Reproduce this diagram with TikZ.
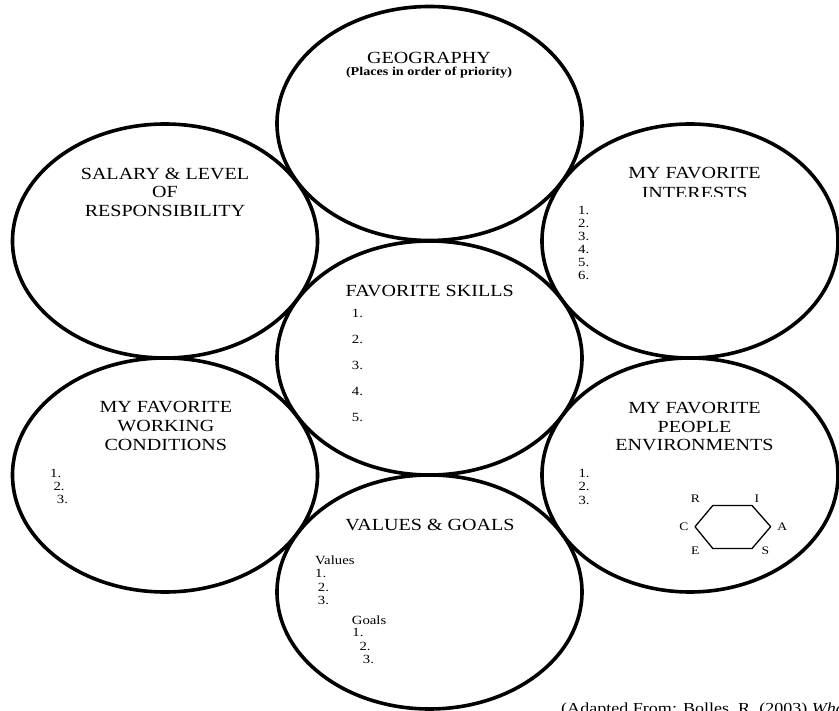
\documentclass[tikz,border=0pt]{standalone}
\usepackage{fontspec}
\setmainfont{Liberation Serif}[FakeStretch=1.18]
\usetikzlibrary{shapes.geometric}
\tikzset{
  ring/.style={ellipse, draw, line width=3.6pt, minimum width=305pt, minimum height=234pt, inner sep=0pt},
  ringR/.style={ring, minimum width=296pt},
  ttl/.style={anchor=base, inner sep=0pt, font=\fontsize{17}{18.7}\selectfont},
  sub/.style={anchor=base, inner sep=0pt, font=\bfseries\fontsize{12}{13}\selectfont},
  lst/.style={anchor=base west, inner sep=0pt, font=\fontsize{12.5}{13}\selectfont},
  hexlbl/.style={inner sep=0pt, font=\fontsize{11.5}{12}\selectfont},
  hexline/.style={line width=1.3pt, line join=round},
}
\begin{document}
\begin{tikzpicture}[x=1pt,y=-1pt]
\useasboundingbox (0,0) rectangle (839,711);
% ellipses
\node[ring]  (geo) at (429.5,123.5) {};
\node[ring]  (sal) at (165,241) {};
\node[ringR] (int) at (690,241) {};
\node[ring]  (skl) at (429.5,358) {};
\node[ring]  (wrk) at (165,475) {};
\node[ringR] (ppl) at (690,475) {};
\node[ring]  (val) at (429.5,592) {};
% geography
\node[ttl] (geoT) at (429,63.3) {GEOGRAPHY};
\node[sub] (geoS) at (429,75.5) {(Places in order of priority)};
% salary
\node[ttl] (sal1) at (165,179.3) {SALARY \& LEVEL};
\node[ttl] (sal2) at (165,198) {OF};
\node[ttl] (sal3) at (165,216.7) {RESPONSIBILITY};
% interests
\node[ttl] (int1) at (694.5,179) {MY FAVORITE};
\begin{scope}
  \clip (600,150) rectangle (800,196.7);
  \node[ttl] (int2) at (694.7,199) {INTERESTS};
\end{scope}
\node[lst] (i1) at (578,214.3) {1.};
\node[lst] (i2) at (578,227.3) {2.};
\node[lst] (i3) at (578,240.3) {3.};
\node[lst] (i4) at (578,253.3) {4.};
\node[lst] (i5) at (578,266.3) {5.};
\node[lst] (i6) at (578,279.3) {6.};
% skills
\node[ttl] (sklT) at (429.7,296.7) {FAVORITE SKILLS};
\node[lst] (s1) at (351.7,317.7) {1.};
\node[lst] (s2) at (351.7,343.7) {2.};
\node[lst] (s3) at (351.7,369.7) {3.};
\node[lst] (s4) at (351.7,395.7) {4.};
\node[lst] (s5) at (351.7,421.7) {5.};
% working conditions
\node[ttl] (wrk1) at (165.8,412.7) {MY FAVORITE};
\node[ttl] (wrk2) at (165.8,431.7) {WORKING};
\node[ttl] (wrk3) at (165.8,451) {CONDITIONS};
\node[lst] (w1) at (50,477.7) {1.};
\node[lst] (w2) at (53.3,491) {2.};
\node[lst] (w3) at (56.7,503.7) {3.};
% people environments
\node[ttl] (ppl1) at (694.5,413.3) {MY FAVORITE};
\node[ttl] (ppl2) at (694.5,432.3) {PEOPLE};
\node[ttl] (ppl3) at (694.5,451) {ENVIRONMENTS};
\node[lst] (p1) at (578.3,477.3) {1.};
\node[lst] (p2) at (578.3,490.7) {2.};
\node[lst] (p3) at (578.3,504) {3.};
% hexagon
\coordinate (hTL) at (712.8,505.5);
\coordinate (hTR) at (752,505.5);
\coordinate (hR)  at (770.7,526.7);
\coordinate (hBR) at (752,548.5);
\coordinate (hBL) at (712.8,548.5);
\coordinate (hL)  at (695,526.7);
\draw[hexline] (hTL) -- (hTR) -- (hR) -- (hBR) -- (hBL) -- (hL) -- cycle;
\node[hexlbl] (lR) at (695.5,498.8) {R};
\node[hexlbl] (lI) at (757,498.8) {I};
\node[hexlbl] (lA) at (782.3,526.3) {A};
\node[hexlbl] (lC) at (683.8,526.3) {C};
\begin{scope}
  \clip (680,540) rectangle (790,553);
  \node[hexlbl] (lE) at (695.2,550.4) {E};
  \node[hexlbl] (lS) at (765.3,550.4) {S};
\end{scope}
% values & goals
\node[ttl] (valT) at (430,530) {VALUES \& GOALS};
\node[lst] (vH) at (315,565) {Values};
\node[lst] (v1) at (315,577.7) {1.};
\node[lst] (v2) at (317.7,591) {2.};
\node[lst] (v3) at (317.7,604.3) {3.};
\node[lst] (gH) at (351.7,624) {Goals};
\node[lst] (g1) at (352.2,636.7) {1.};
\node[lst] (g2) at (359.3,650) {2.};
\node[lst] (g3) at (362.7,663.3) {3.};
% caption
\node[anchor=base west, inner sep=0pt, font=\fontsize{15.3}{18}\selectfont] (cap) at (561,713.5) {(Adapted From: Bolles, R. (2003) \textit{What C}};
\end{tikzpicture}
\end{document}
